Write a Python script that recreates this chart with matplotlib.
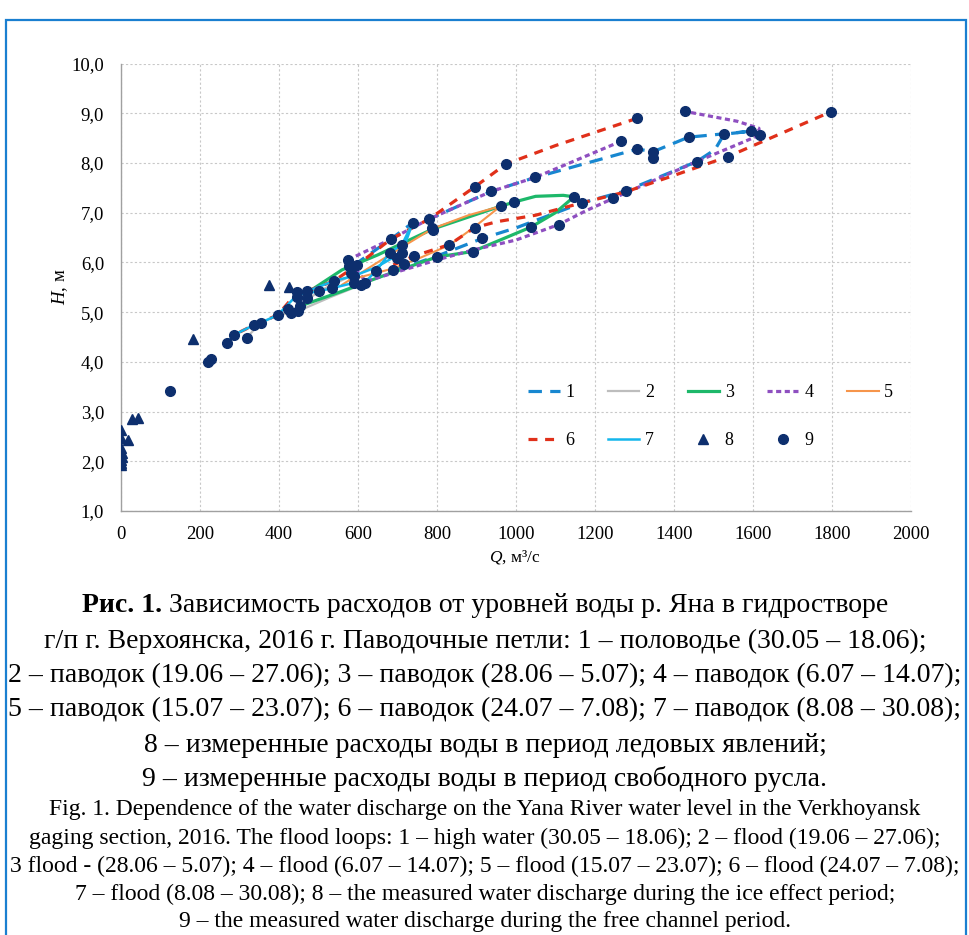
import numpy as np
import matplotlib
matplotlib.use('Agg')
import matplotlib.pyplot as plt
from matplotlib.lines import Line2D
from matplotlib.patches import Rectangle

plt.rcParams['font.family'] = ['Liberation Serif', 'DejaVu Serif']
plt.rcParams['mathtext.fontset'] = 'custom'
plt.rcParams['mathtext.rm'] = 'Liberation Serif'
plt.rcParams['mathtext.it'] = 'Liberation Serif:italic'

# ---------------- data ----------------
# 1 - high water loop
q1 = [690, 743, 801, 914, 1002, 1168, 1278, 1458, 1504, 1527, 1596, 1437, 1348, 1307, 1049, 938, 780, 739, 684, 600]
h1 = [5.85, 5.97, 6.13, 6.48, 6.70, 7.20, 7.44, 8.03, 8.27, 8.58, 8.64, 8.52, 8.23, 8.28, 7.71, 7.43, 6.87, 6.80, 6.47, 6.00]
# 2 - flood
q2 = [319, 355, 397, 449, 530, 609, 575, 501, 453]
h2 = [4.49, 4.79, 4.93, 5.02, 5.30, 5.55, 5.70, 5.42, 5.12]
# 3 - flood
q3 = [453, 560, 650, 800, 891, 1038, 1100, 1147, 1120, 1050, 998, 961, 789, 650, 560, 470]
h3 = [5.12, 5.42, 5.69, 6.11, 6.22, 6.71, 7.00, 7.32, 7.35, 7.33, 7.22, 7.13, 6.67, 6.15, 5.85, 5.38]
# 4 - flood
q4 = [1267, 1049, 938, 780, 684, 575, 620, 800, 891, 1000, 1108, 1180, 1247, 1278, 1458, 1617, 1615, 1560, 1427]
h4 = [8.44, 7.71, 7.43, 6.87, 6.47, 6.05, 5.62, 6.05, 6.25, 6.45, 6.76, 7.05, 7.29, 7.40, 8.03, 8.56, 8.70, 8.84, 9.04]
# 5 - flood
q5 = [560, 700, 789, 880, 961, 893, 832, 760, 690, 580]
h5 = [5.55, 6.25, 6.68, 6.95, 7.13, 6.70, 6.35, 6.10, 5.88, 5.65]
# 6 - flood (rising and falling branches)
q6_rise = [690, 743, 832, 896, 952, 1050, 1168, 1278, 1400, 1537, 1797]
h6_rise = [5.95, 6.13, 6.36, 6.70, 6.82, 6.95, 7.20, 7.42, 7.75, 8.13, 9.03]
q6_fall = [1307, 1100, 975, 896, 780, 684, 599, 540, 472, 447, 397, 337, 286]
h6_fall = [8.90, 8.35, 7.98, 7.52, 6.87, 6.47, 5.95, 5.63, 5.42, 5.40, 4.94, 4.74, 4.54]
# 7 - flood
q7 = [268, 286, 337, 355, 397, 447, 501, 534, 590, 617, 646, 682, 712, 739, 712, 646, 590, 540, 472]
h7 = [4.37, 4.54, 4.74, 4.79, 4.94, 5.35, 5.42, 5.48, 5.59, 5.59, 5.83, 6.20, 6.36, 6.80, 6.20, 5.90, 5.73, 5.63, 5.42]
# 8 - measured discharge, ice period
q8 = [0, 0, 19, 28, 45, 2, 4, 3, 2, 1, 2, 184, 375, 425]
h8 = [2.63, 2.47, 2.42, 2.85, 2.88, 2.26, 2.16, 2.09, 2.02, 1.96, 1.92, 4.47, 5.54, 5.50]
# 9 - measured discharge, free channel period
q9 = [125, 222, 228, 268, 286, 319, 337, 355, 397, 424, 430, 449, 453, 447, 447, 472, 472, 501, 534, 540,
      575, 577, 584, 590, 590, 609, 617, 599, 646, 684, 682, 698, 712, 712, 690, 716, 739, 743, 780, 789,
      791, 800, 832, 891, 896, 896, 914, 938, 962, 996, 975, 1038, 1049, 1108, 1147, 1168, 1247, 1278, 1267, 1307,
      1307, 1348, 1348, 1427, 1437, 1458, 1527, 1537, 1596, 1617, 1797]
h9 = [3.41, 4.00, 4.06, 4.37, 4.54, 4.49, 4.74, 4.79, 4.94, 5.06, 4.98, 5.02, 5.12, 5.40, 5.31, 5.42, 5.28, 5.42, 5.48, 5.63,
      6.05, 5.93, 5.79, 5.73, 5.59, 5.55, 5.59, 5.95, 5.83, 6.47, 6.20, 6.08, 6.20, 6.36, 5.85, 5.97, 6.80, 6.13, 6.87, 6.70,
      6.65, 6.11, 6.35, 6.22, 6.70, 7.52, 6.49, 7.43, 7.14, 7.22, 7.98, 6.71, 7.71, 6.76, 7.32, 7.20, 7.29, 7.44, 8.44, 8.90,
      8.28, 8.23, 8.11, 9.04, 8.52, 8.03, 8.58, 8.13, 8.64, 8.56, 9.03]

x_ticks = [0, 200, 400, 600, 800, 1000, 1200, 1400, 1600, 1800, 2000]
y_ticks = [1.0, 2.0, 3.0, 4.0, 5.0, 6.0, 7.0, 8.0, 9.0, 10.0]
legend_labels = ['1', '2', '3', '4', '5', '6', '7', '8', '9']

ru_title_bold = 'Рис. 1.'
ru_lines = [
    ' Зависимость расходов от уровней воды р. Яна в гидростворе',
    'г/п г. Верхоянска, 2016 г. Паводочные петли: 1 – половодье (30.05 – 18.06);',
    '2 – паводок (19.06 – 27.06); 3 – паводок (28.06 – 5.07); 4 – паводок (6.07 – 14.07);',
    '5 – паводок (15.07 – 23.07); 6 – паводок (24.07 – 7.08); 7 – паводок (8.08 – 30.08);',
    '8 – измеренные расходы воды в период ледовых явлений;',
    '9 – измеренные расходы воды в период свободного русла.',
]
en_lines = [
    'Fig. 1. Dependence of the water discharge on the Yana River water level in the Verkhoyansk',
    'gaging section, 2016. The flood loops: 1 – high water (30.05 – 18.06); 2 – flood (19.06 – 27.06);',
    '3 flood - (28.06 – 5.07); 4 – flood (6.07 – 14.07); 5 – flood (15.07 – 23.07); 6 – flood (24.07 – 7.08);',
    '7 – flood (8.08 – 30.08); 8 – the measured water discharge during the ice effect period;',
    '9 – the measured water discharge during the free channel period.',
]

# ---------------- figure ----------------
W, H = 970, 935
fig = plt.figure(figsize=(W / 100, H / 100), dpi=100)
fig.patch.set_facecolor('white')

x0, x1, yt, yb = 120.7, 911.0, 63.6, 511.0
ax = fig.add_axes([x0 / W, 1 - yb / H, (x1 - x0) / W, (yb - yt) / H])

c1, c2, c3, c4, c5, c6, c7 = '#1787d0', '#bdbdbd', '#1db86a', '#8e4fc0', '#f6954b', '#e0301a', '#14b6ec'
navy = '#0d2f6e'

l1, = ax.plot(q1, h1, color=c1, lw=2.3, dashes=(4.2, 2.6), label='1', zorder=3)
l2, = ax.plot(q2, h2, color=c2, lw=1.6, label='2', zorder=2)
l3, = ax.plot(q3, h3, color=c3, lw=2.3, label='3', zorder=3)
l4, = ax.plot(q4, h4, color=c4, lw=2.3, dashes=(1.6, 1.1), label='4', zorder=3)
l5, = ax.plot(q5, h5, color=c5, lw=1.5, label='5', zorder=3)
l6, = ax.plot(q6_rise, h6_rise, color=c6, lw=2.3, dashes=(2.8, 2.4), label='6', zorder=3)
ax.plot(q6_fall, h6_fall, color=c6, lw=2.3, dashes=(2.8, 2.4), zorder=3)
l7, = ax.plot(q7, h7, color=c7, lw=1.8, label='7', zorder=3)
l8, = ax.plot(q8, h8, ls='none', marker='^', ms=7, color=navy, label='8', zorder=5)
l9, = ax.plot(q9, h9, ls='none', marker='o', ms=7, color=navy, label='9', zorder=5)

ax.set_xlim(0, 2000)
ax.set_ylim(1.0, 10.0)
ax.set_xticks(x_ticks)
ax.set_yticks(y_ticks)
ax.set_xticklabels([str(v) for v in x_ticks])
ax.set_yticklabels([f'{v:.1f}'.replace('.', ',') for v in y_ticks])
ax.tick_params(length=0, labelsize=13.5, colors='black')
ax.tick_params(axis='y', pad=12)
ax.tick_params(axis='x', pad=11)
ax.grid(True, color='#c8c8c8', lw=0.8, ls=(0, (2, 2)))
ax.set_axisbelow(True)
for s in ['top', 'right']:
    ax.spines[s].set_visible(False)
for s in ['left', 'bottom']:
    ax.spines[s].set_color('#a0a0a0')
    ax.spines[s].set_linewidth(1.0)

fig.text(60 / W, 1 - 287 / H, r'$H$, м', rotation=90, ha='center', va='center', fontsize=13.5)
fig.text(515 / W, 1 - 557 / H, r'$Q$, м³/с', ha='center', va='center', fontsize=12.5)

handles = [l1, l6, l2, l7, l3, l8, l4, l9, l5]
labs = [h.get_label() for h in handles]
leg = fig.legend(handles, labs, ncol=5, frameon=False, loc='upper left',
                 bbox_to_anchor=(528 / W, 1 - 384 / H), fontsize=13,
                 handlelength=1.75, handletextpad=0.3, columnspacing=1.87,
                 labelspacing=1.72, borderpad=0, borderaxespad=0)

# frame around the figure
fig.patches.append(Rectangle((6 / W, -0.02), 960 / W, 1.02 - 20 / H, transform=fig.transFigure,
                             fill=False, edgecolor='#1a7fd0', lw=1.6))

# ---------------- caption ----------------
fig.canvas.draw()
r = fig.canvas.get_renderer()

def width_px(s, size, weight='normal'):
    t = fig.text(0, 0, s, fontsize=size, weight=weight)
    w = t.get_window_extent(r).width
    t.remove()
    return w

cx = 485
base = 16
ru_w = max(width_px(s, base) for s in ru_lines[1:])
ru_size = base * 955 / ru_w
ru_y = [606, 641, 676, 710, 745, 779]
wb = width_px(ru_title_bold, ru_size, 'bold')
wr = width_px(ru_lines[0], ru_size)
left = cx - (wb + wr) / 2
fig.text(left / W, 1 - ru_y[0] / H, ru_title_bold, fontsize=ru_size, weight='bold', ha='left', va='center')
fig.text((left + wb) / W, 1 - ru_y[0] / H, ru_lines[0], fontsize=ru_size, ha='left', va='center')
for s, y in zip(ru_lines[1:], ru_y[1:]):
    fig.text(cx / W, 1 - y / H, s, fontsize=ru_size, ha='center', va='center')

en_w = max(width_px(s, base) for s in en_lines)
en_size = base * 958 / en_w
en_y = [809, 838, 866, 894, 921]
for s, y in zip(en_lines, en_y):
    fig.text(cx / W, 1 - y / H, s, fontsize=en_size, ha='center', va='center')

fig.savefig('out.png', dpi=100, facecolor='white')
